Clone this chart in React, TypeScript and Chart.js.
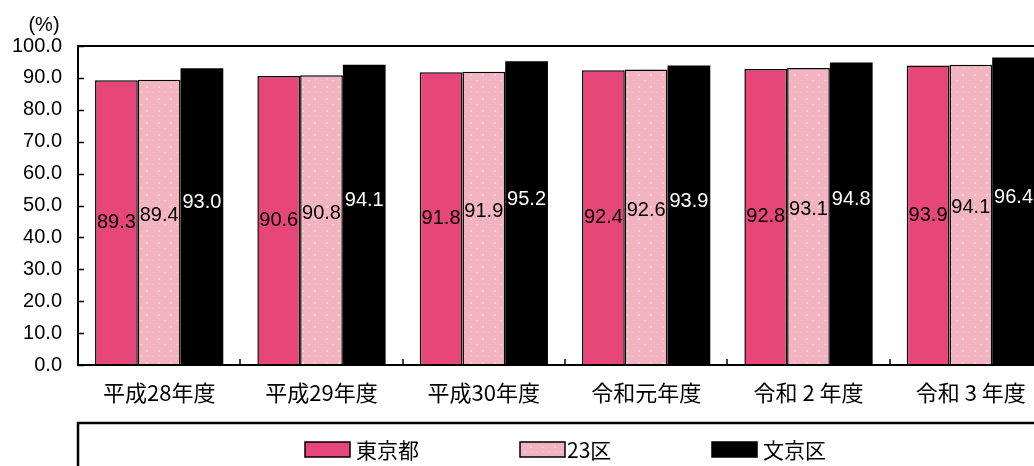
import { useEffect, useRef } from "react";
import { Chart, registerables } from "chart.js";

Chart.register(...registerables);

const categories = ["平成28年度", "平成29年度", "平成30年度", "令和元年度", "令和 2 年度", "令和 3 年度"];
const seriesNames = ["東京都", "23区", "文京区"];
const tokyo = [89.3, 90.6, 91.8, 92.4, 92.8, 93.9];
const ku23 = [89.4, 90.8, 91.9, 92.6, 93.1, 94.1];
const bunkyo = [93.0, 94.1, 95.2, 93.9, 94.8, 96.4];
const yTicks = [0, 10, 20, 30, 40, 50, 60, 70, 80, 90, 100];

const LATIN = "'Liberation Sans', Arial, sans-serif";
const CJK = "'Noto Sans CJK JP', 'Liberation Sans', sans-serif";

function makePattern(): CanvasPattern | string {
  const c = document.createElement("canvas");
  c.width = 12;
  c.height = 12;
  const g = c.getContext("2d");
  if (!g) return "#F4B5C2";
  g.fillStyle = "#F3B4C1";
  g.fillRect(0, 0, 12, 12);
  g.fillStyle = "#F8CFD8";
  g.fillRect(2, 2, 2, 2);
  g.fillStyle = "#F6C3CE";
  g.fillRect(8, 8, 2, 1);
  g.fillRect(3, 7, 1, 2);
  const p = g.createPattern(c, "repeat");
  return p || "#F4B5C2";
}

export default function App() {
  const ref = useRef<HTMLCanvasElement | null>(null);

  useEffect(() => {
    const canvas = ref.current;
    if (!canvas) return;
    const pattern = makePattern();
    const colors: any[] = ["#E6467A", pattern, "#000000"];
    const labelOffsets = [0, -7, -14];

    const decor = {
      id: "decor",
      afterDatasetsDraw(chart: any) {
        const ctx = chart.ctx;
        const area = chart.chartArea;
        const ys = chart.scales.y;
        const xs = chart.scales.x;
        ctx.save();
        // data labels
        ctx.font = `20px ${LATIN}`;
        ctx.textAlign = "center";
        ctx.textBaseline = "middle";
        chart.data.datasets.forEach((ds: any, di: number) => {
          const meta = chart.getDatasetMeta(di);
          meta.data.forEach((bar: any, i: number) => {
            const v = ds.data[i];
            const cy = (bar.y + bar.base) / 2 + labelOffsets[di];
            ctx.fillStyle = di === 2 ? "#FFFFFF" : "#000000";
            ctx.fillText(v.toFixed(1), bar.x, cy);
          });
        });
        // frame
        ctx.strokeStyle = "#000";
        ctx.lineWidth = 2;
        ctx.strokeRect(area.left, area.top, area.right - area.left, area.bottom - area.top);
        ctx.lineWidth = 1.5;
        // y inward ticks
        yTicks.forEach((t) => {
          const y = Math.round(ys.getPixelForValue(t)) + 0.5;
          ctx.beginPath();
          ctx.moveTo(area.left, y);
          ctx.lineTo(area.left + 6, y);
          ctx.stroke();
        });
        // x inward ticks at category boundaries
        for (let i = 0; i < categories.length - 1; i++) {
          const x = Math.round(xs.getPixelForValue(i + 0.5));
          ctx.beginPath();
          ctx.moveTo(x, area.bottom);
          ctx.lineTo(x, area.bottom - 6);
          ctx.stroke();
        }
        // unit label
        ctx.fillStyle = "#000";
        ctx.font = `20px ${LATIN}`;
        ctx.textAlign = "center";
        ctx.fillText("(%)", 44, 25);
        // legend box
        ctx.lineWidth = 2.5;
        ctx.strokeRect(78, 423, chart.width, 100);
        const sw = [305, 520, 712];
        const tx = [356, 567, 763];
        ctx.textAlign = "left";
        ctx.textBaseline = "middle";
        ctx.font = `21px ${CJK}`;
        seriesNames.forEach((name, i) => {
          ctx.fillStyle = colors[i];
          ctx.fillRect(sw[i], 442, 45, 15);
          ctx.lineWidth = 1.5;
          ctx.strokeStyle = "#000";
          ctx.strokeRect(sw[i], 442, 45, 15);
          ctx.fillStyle = "#000";
          ctx.fillText(name, tx[i], 450);
        });
        ctx.restore();
      },
    };

    const chart = new Chart(canvas, {
      type: "bar",
      data: {
        labels: categories,
        datasets: [
          { label: seriesNames[0], data: tokyo, backgroundColor: colors[0], borderColor: "#000", borderWidth: 1.5 },
          { label: seriesNames[1], data: ku23, backgroundColor: colors[1], borderColor: "#000", borderWidth: 1.5 },
          { label: seriesNames[2], data: bunkyo, backgroundColor: colors[2], borderColor: "#000", borderWidth: 0 },
        ],
      },
      options: {
        animation: false,
        responsive: false,
        devicePixelRatio: 1,
        layout: { padding: { left: 0, top: 46, right: 18, bottom: 0 } },
        datasets: { bar: { categoryPercentage: 0.79, barPercentage: 1.0 } },
        plugins: { legend: { display: false }, tooltip: { enabled: false }, title: { display: false } },
        scales: {
          x: {
            grid: { display: false, drawTicks: false },
            border: { display: false },
            ticks: { color: "#000", font: { family: CJK, size: 22 }, padding: 14, maxRotation: 0, autoSkip: false },
            afterFit(scale: any) {
              scale.height = 101;
            },
          },
          y: {
            min: 0,
            max: 100,
            grid: { display: false, drawTicks: false },
            border: { display: false },
            ticks: {
              stepSize: 10,
              color: "#000",
              font: { family: LATIN, size: 20 },
              padding: 16,
              callback: (v: any) => Number(v).toFixed(1),
            },
            afterFit(scale: any) {
              scale.width = 78;
            },
          },
        },
      },
      plugins: [decor],
    });
    return () => chart.destroy();
  }, []);

  return (
    <div style={{ position: "fixed", left: 0, top: 0, width: 1034, height: 466, overflow: "hidden", background: "#fff" }}>
      <canvas ref={ref} width={1070} height={466} style={{ width: 1070, height: 466, display: "block" }} />
    </div>
  );
}
